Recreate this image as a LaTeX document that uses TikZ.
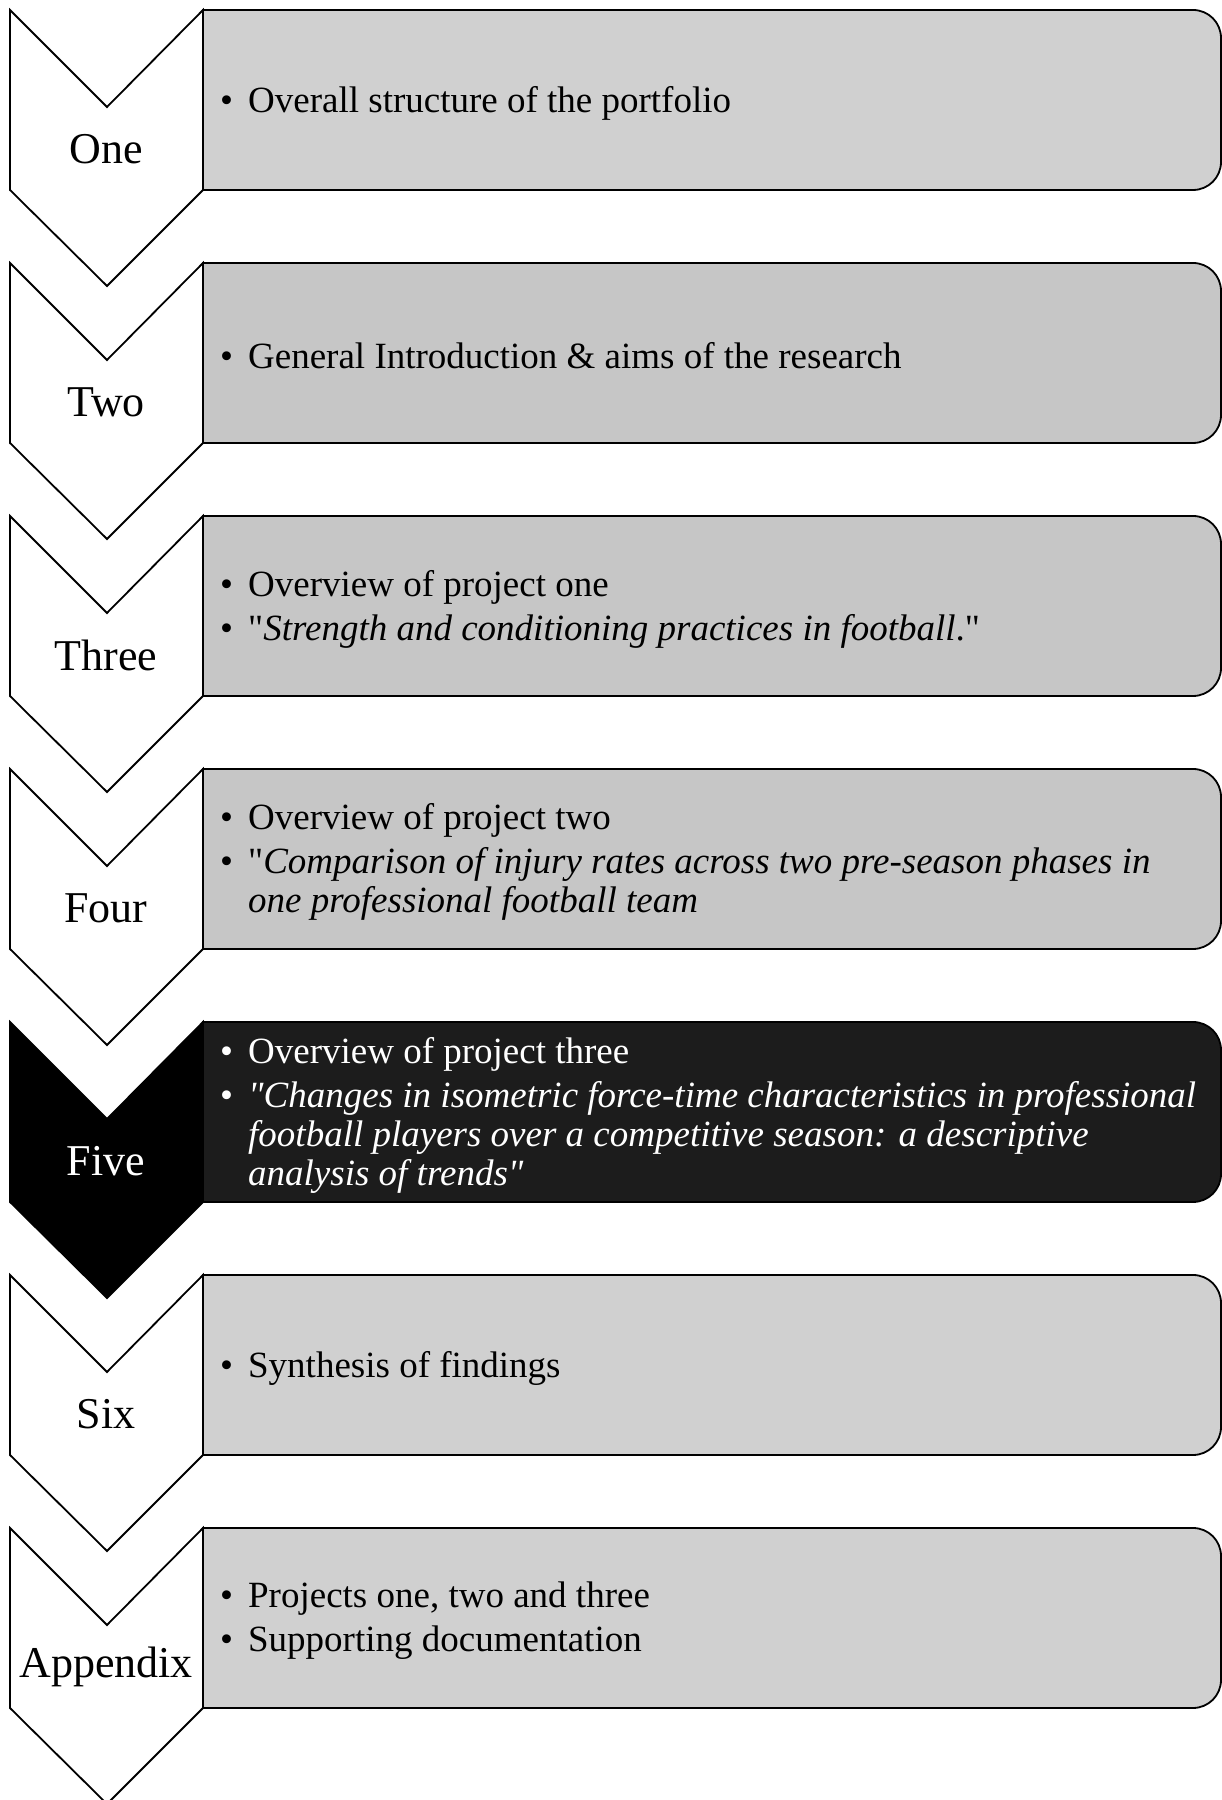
\documentclass[tikz,border=0pt]{standalone}
\usepackage{fontspec}
\setmainfont{Liberation Serif}[Ligatures=TeXOff]
\definecolor{boxlight}{HTML}{D0D0D0}
\definecolor{boxmid}{HTML}{C6C6C6}
\definecolor{boxdark}{HTML}{1C1C1C}
\newcommand{\bul}{\hspace*{2pt}\makebox[28pt][l]{\textbullet}}
\newcommand{\cont}{\hspace*{30pt}}
\tikzset{
  chev/.style={draw=black, line width=1.8pt, line join=miter, fill=white},
  chevhi/.style={chev, fill=black},
  panel/.style={draw=black, line width=1.8pt},
  chevlabel/.style={font=\fontsize{44}{48}\selectfont, inner sep=0pt, text=black},
  paneltext/.style={font=\fontsize{37}{39}\selectfont, align=left, anchor=west, inner sep=0pt, text=black},
}
% draws one step: top edge y, fill of the panel, chevron style
\newcommand{\stepshape}[3]{%
  \pgfmathsetmacro{\yt}{#1}%
  \pgfmathsetmacro{\yb}{#1-180}%
  \pgfmathsetmacro{\yn}{#1-97}%
  \pgfmathsetmacro{\yp}{#1-276}%
  \draw[panel, fill=#2] (203,\yt) -- (1193,\yt) arc[start angle=90, end angle=0, radius=28pt]
    -- (1221,\yb+28) arc[start angle=0, end angle=-90, radius=28pt] -- (203,\yb) -- cycle;
  \draw[#3] (10,\yt) -- (107,\yn) -- (203,\yt) -- (203,\yb) -- (107,\yp) -- (10,\yb) -- cycle;
}
\begin{document}
\begin{tikzpicture}[x=1pt, y=1pt]
\useasboundingbox (0,0) rectangle (1222,1800);

\stepshape{1790}{boxlight}{chev}
\stepshape{1537}{boxmid}{chev}
\stepshape{1284}{boxmid}{chev}
\stepshape{1031}{boxmid}{chev}
\stepshape{778}{boxdark}{chevhi}
\stepshape{525}{boxlight}{chev}
\stepshape{272}{boxlight}{chev}

% chevron labels
\node[chevlabel] (l1) at (106,1651) {One};
\node[chevlabel] (l2) at (106,1398) {Two};
\node[chevlabel] (l3) at (106,1145) {Three};
\node[chevlabel] (l4) at (106,892) {Four};
\node[chevlabel, text=white] (l5) at (106,639) {Five};
\node[chevlabel] (l6) at (106,386) {Six};
\node[chevlabel] (l7) at (106,133) {Appendix};

% panel texts
\node[paneltext] (t1) at (218,1697) {\bul Overall structure of the portfolio};
\node[paneltext] (t2) at (218,1444) {\bul General Introduction \& aims of the research};
\node[paneltext] (t3) at (218,1191) {\bul Overview of project one\\[5pt]
  \bul "\textit{Strength and conditioning practices in football}."};
\node[paneltext] (t4) at (218,938) {\bul Overview of project two\\[5pt]
  \bul "\textit{Comparison of injury rates across two pre-season phases in}\\
  \cont\textit{one professional football team}};
\node[paneltext, text=white] (t5) at (218,685) {\bul Overview of project three\\[5pt]
  \bul \textit{"Changes in isometric force-time characteristics in professional}\\
  \cont\textit{football players over a competitive season: a descriptive}\\
  \cont\textit{analysis of trends"}};
\node[paneltext] (t6) at (218,432) {\bul Synthesis of findings};
\node[paneltext] (t7) at (218,179) {\bul Projects one, two and three\\[5pt]
  \bul Supporting documentation};
\end{tikzpicture}
\end{document}
